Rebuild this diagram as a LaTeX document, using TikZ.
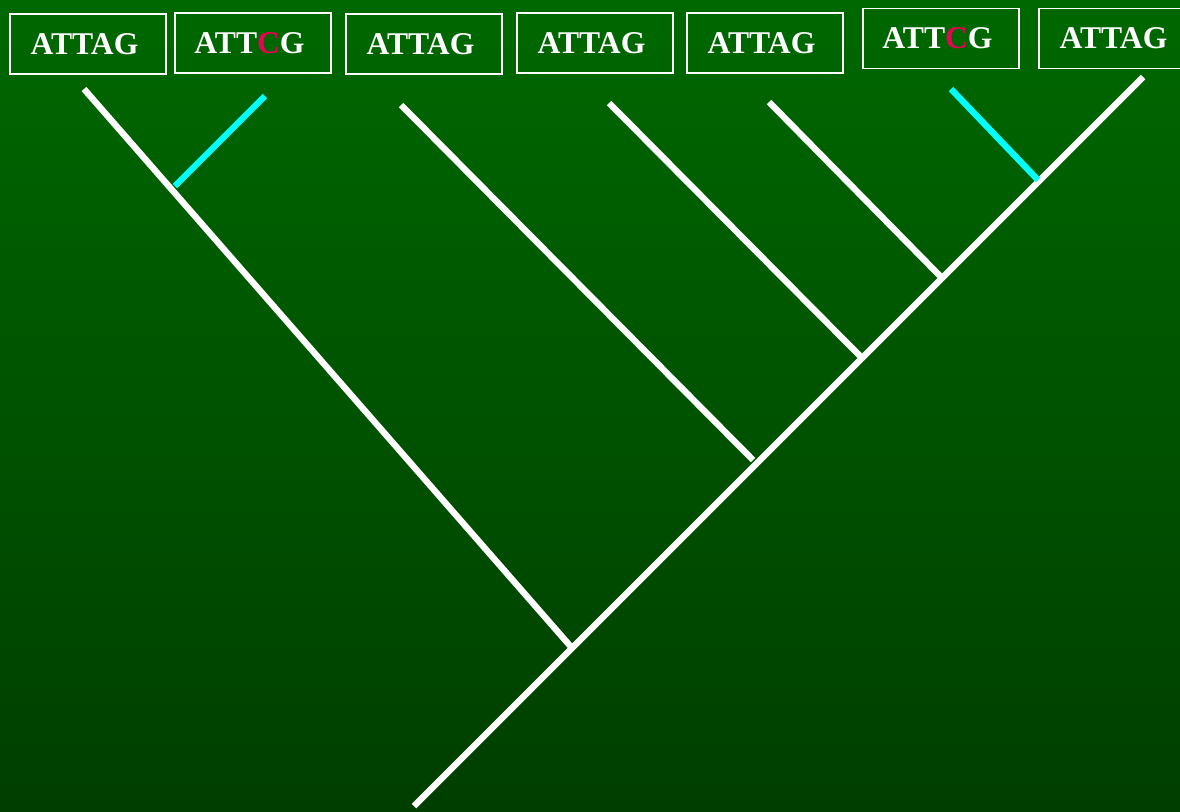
\documentclass[tikz,border=0pt]{standalone}
\usepackage{fontspec}
\setmainfont{Liberation Serif}
\definecolor{bgtop}{RGB}{0,104,0}
\definecolor{bgbottom}{RGB}{0,62,0}
\definecolor{mutred}{RGB}{235,0,85}
\definecolor{mutcyan}{RGB}{0,255,255}
\newcommand{\seqpad}{\rule{2pt}{0pt}}
\begin{document}
\begin{tikzpicture}[x=0.01cm, y=-0.01cm,
    seqbox/.style={draw=white, line width=0.55pt, text=white, minimum width=1.56cm,
      minimum height=0.6cm, inner sep=0pt, font=\fontsize{9}{10}\selectfont\bfseries},
    branch/.style={white, line width=1.8pt},
    mutation/.style={mutcyan, line width=1.8pt}]
    \useasboundingbox (0,0) rectangle (1180,811);
    \clip (0,0) rectangle (1180,811);
    \shade[top color=bgtop, bottom color=bgbottom] (0,0) rectangle (1180,811);

    % Sequences
    \node[seqbox] (seq1) at (88,44) {ATTAG\seqpad};
    \node[seqbox] (seq2) at (253,43) {ATT{\color{mutred}C}G\seqpad};
    \node[seqbox] (seq3) at (424,44) {ATTAG\seqpad};
    \node[seqbox] (seq4) at (595,43) {ATTAG\seqpad};
    \node[seqbox] (seq5) at (765,43) {ATTAG\seqpad};
    \node[seqbox] (seq6) at (941,38.5) {ATT{\color{mutred}C}G\seqpad};
    \node[seqbox] (seq7) at (1117,38.5) {ATTAG\seqpad};

    % Tips
    \coordinate (tip1) at (84,89);
    \coordinate (tip2) at (265,96);
    \coordinate (tip3) at (401,105);
    \coordinate (tip4) at (609,103);
    \coordinate (tip5) at (769,102);
    \coordinate (tip6) at (951,89);
    \coordinate (tip7) at (1143,77);

    % Inner nodes
    \coordinate (root) at (414,806);
    \coordinate (n1) at (572,648);
    \coordinate (n2) at (175,186);
    \coordinate (n3) at (753,460);
    \coordinate (n4) at (862,358);
    \coordinate (n5) at (942,278);
    \coordinate (n6) at (1038,180);

    % Tree
    \draw[branch] (root) -- (n1) -- (tip7);
    \draw[branch] (n1) -- (tip1);
    \draw[branch] (tip3) -- (n3);
    \draw[branch] (tip4) -- (n4);
    \draw[branch] (tip5) -- (n5);

    % Mutations
    \draw[mutation] (tip2) -- (n2);
    \draw[mutation] (tip6) -- (n6);
\end{tikzpicture}
\end{document}
